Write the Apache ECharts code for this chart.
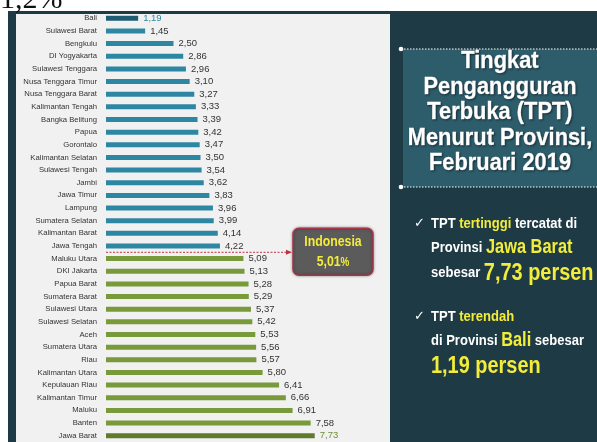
<!DOCTYPE html>
<html>
<head>
<meta charset="utf-8">
<script src="https://cdn.jsdelivr.net/npm/echarts@6/dist/echarts.min.js"></script>
<style>
  html, body { margin: 0; padding: 0; background: #fff; }
  #chart { width: 597px; height: 442px; }
</style>
</head>
<body>
<div id="chart"></div>
<script>
var provinces = ['Bali', 'Sulawesi Barat', 'Bengkulu', 'DI Yogyakarta', 'Sulawesi Tenggara',
    'Nusa Tenggara Timur', 'Nusa Tenggara Barat', 'Kalimantan Tengah', 'Bangka Belitung', 'Papua',
    'Gorontalo', 'Kalimantan Selatan', 'Sulawesi Tengah', 'Jambi', 'Jawa Timur', 'Lampung',
    'Sumatera Selatan', 'Kalimantan Barat', 'Jawa Tengah', 'Maluku Utara', 'DKI Jakarta',
    'Papua Barat', 'Sumatera Barat', 'Sulawesi Utara', 'Sulawesi Selatan', 'Aceh', 'Sumatera Utara',
    'Riau', 'Kalimantan Utara', 'Kepulauan Riau', 'Kalimantan Timur', 'Maluku', 'Banten', 'Jawa Barat'];
var tptValues = [1.19, 1.45, 2.50, 2.86, 2.96, 3.10, 3.27, 3.33, 3.39, 3.42, 3.47, 3.50, 3.54,
    3.62, 3.83, 3.96, 3.99, 4.14, 4.22, 5.09, 5.13, 5.28, 5.29, 5.37, 5.42, 5.53, 5.56, 5.57,
    5.80, 6.41, 6.66, 6.91, 7.58, 7.73];
var nationalRate = 5.01;

var sans = "'Liberation Sans', Arial, sans-serif";

var chart = echarts.init(document.getElementById('chart'));

function fmt(v) {
    return v.toFixed(2).replace('.', ',');
}

var barData = tptValues.map(function (v, i) {
    var color = v < nationalRate ? '#2e87a2' : '#789a3b';
    var labelColor = '#333';
    if (i === 0) { color = '#1e5c72'; labelColor = '#2f87a1'; }
    if (i === tptValues.length - 1) { color = '#5d7b2b'; labelColor = '#6d8f33'; }
    return {
        value: v,
        itemStyle: { color: color },
        label: { color: labelColor }
    };
});

var option = {
    backgroundColor: '#ffffff',
    animation: false,
    grid: { left: 106, top: 12, width: 270, height: 430 },
    xAxis: {
        type: 'value', min: 0, max: 10,
        show: false
    },
    yAxis: {
        type: 'category',
        data: provinces,
        inverse: true,
        axisLine: { show: false },
        axisTick: { show: false },
        axisLabel: {
            color: '#333', fontSize: 7.7, fontFamily: sans, margin: 9
        }
    },
    series: [{
        type: 'bar',
        data: barData,
        barWidth: 5,
        label: {
            show: true, position: 'right', distance: 5,
            fontSize: 9.5, fontFamily: sans,
            formatter: function (p) { return fmt(p.value); }
        },
        z: 5
    }]
};

option.graphic = [
    { type: 'text', left: 0, top: -15, z: 1,
      style: { text: '1,2%', font: '30px "Liberation Serif", serif', fill: '#111' } },
    { type: 'rect', z: -10, silent: true,
      shape: { x: 8, y: 11, width: 589, height: 431 }, style: { fill: '#1e3b45' } },
    { type: 'rect', z: -9, silent: true,
      shape: { x: 16, y: 14, width: 374, height: 428 }, style: { fill: '#f1f1f1' } },
    { type: 'rect', z: -9, silent: true,
      shape: { x: 403, y: 49, width: 194, height: 138 }, style: { fill: '#2d5c6b' } },
    { type: 'line', z: 2, silent: true,
      shape: { x1: 401, y1: 49, x2: 597, y2: 49 },
      style: { stroke: '#ffffff', lineWidth: 1.2, lineDash: [1.5, 1.5] } },
    { type: 'line', z: 2, silent: true,
      shape: { x1: 401, y1: 187, x2: 597, y2: 187 },
      style: { stroke: '#ffffff', lineWidth: 1.2, lineDash: [1.5, 1.5] } },
    { type: 'circle', z: 2, shape: { cx: 401, cy: 49, r: 2.3 }, style: { fill: '#ffffff' } },
    { type: 'circle', z: 2, shape: { cx: 401, cy: 187, r: 2.3 }, style: { fill: '#ffffff' } },
    { type: 'text', z: 3, x: 500, y: 49, scaleX: 0.95,
      style: {
          text: 'Tingkat\nPengangguran\nTerbuka (TPT)\nMenurut Provinsi,\nFebruari 2019',
          align: 'center', verticalAlign: 'top',
          font: 'bold 23px ' + sans, lineHeight: 25.5, fill: '#ffffff',
          stroke: '#ffffff', lineWidth: 0.4,
          textShadowColor: 'rgba(0,0,0,0.45)', textShadowBlur: 2, textShadowOffsetX: 1, textShadowOffsetY: 1
      } }
];

// note text: segments laid out one after another, each style with its own squeeze
var segStyles = {
    w: { fill: '#ffffff', size: 14, sx: 0.93 },
    y: { fill: '#f3ec3a', size: 14, sx: 0.93 },
    ym: { fill: '#f3ec3a', size: 19.5, sx: 0.84 },
    yl: { fill: '#f3ec3a', size: 24, sx: 0.83 }
};
var ctx = document.createElement('canvas').getContext('2d');
function noteLine(x, y, segs) {
    var out = [];
    segs.forEach(function (s) {
        var st = segStyles[s[0]];
        var font = 'bold ' + st.size + 'px ' + sans;
        ctx.font = font;
        out.push({ type: 'text', z: 3, x: x, y: y, scaleX: st.sx,
            style: { text: s[1], font: font, fill: st.fill, verticalAlign: 'middle', align: 'left' } });
        x += ctx.measureText(s[1]).width * st.sx;
    });
    return out;
}
option.graphic = option.graphic.concat(
    [{ type: 'text', z: 3, x: 414, y: 224,
       style: { text: '✓', font: '13px "DejaVu Sans", sans-serif', fill: '#fff', verticalAlign: 'middle' } },
     { type: 'text', z: 3, x: 414, y: 317,
       style: { text: '✓', font: '13px "DejaVu Sans", sans-serif', fill: '#fff', verticalAlign: 'middle' } }],
    noteLine(431, 224, [['w', 'TPT '], ['y', 'tertinggi'], ['w', ' tercatat di']]),
    noteLine(431, 248, [['w', 'Provinsi '], ['ym', 'Jawa Barat']]),
    noteLine(431, 273, [['w', 'sebesar '], ['yl', '7,73 persen']]),
    noteLine(431, 317, [['w', 'TPT '], ['y', 'terendah']]),
    noteLine(431, 341, [['w', 'di Provinsi '], ['ym', 'Bali'], ['w', ' sebesar']]),
    noteLine(431, 366, [['yl', '1,19 persen']])
);

chart.setOption(option);

// Indonesia marker: dashed arrow between Jawa Tengah and Maluku Utara
var yA = chart.convertToPixel({ yAxisIndex: 0 }, 'Jawa Tengah');
var yB = chart.convertToPixel({ yAxisIndex: 0 }, 'Maluku Utara');
var yMid = (yA + yB) / 2;
var x0 = chart.convertToPixel({ xAxisIndex: 0 }, 0);
chart.setOption({
    graphic: option.graphic.concat([
        { type: 'line', z: 4, shape: { x1: x0, y1: yMid, x2: 288, y2: yMid },
          style: { stroke: '#c0303f', lineWidth: 1, lineDash: [2, 1.5] } },
        { type: 'polygon', z: 4,
          shape: { points: [[286, yMid - 2.5], [292, yMid], [286, yMid + 2.5]] },
          style: { fill: '#c0303f' } },
        { type: 'rect', z: 4,
          shape: { x: 293, y: yMid - 24, width: 80, height: 47, r: 6 },
          style: { fill: '#5b5b5b', stroke: '#a8334a', lineWidth: 1.5,
                   shadowColor: 'rgba(0,0,0,0.35)', shadowBlur: 3 } },
        { type: 'text', z: 5, x: 333, y: yMid - 10, scaleX: 0.82,
          style: { text: 'Indonesia', align: 'center', verticalAlign: 'middle',
                   font: 'bold 15px ' + sans, fill: '#f3ec3a' } },
        { type: 'text', z: 5, x: 333, y: yMid + 10, scaleX: 0.82,
          style: { text: '{n|' + fmt(nationalRate) + '}{p|%}', align: 'center', verticalAlign: 'middle',
                   rich: { n: { font: 'bold 15px ' + sans, fill: '#f3ec3a' },
                           p: { font: 'bold 12px ' + sans, fill: '#f3ec3a' } } } }
    ])
});
</script>
</body>
</html>
